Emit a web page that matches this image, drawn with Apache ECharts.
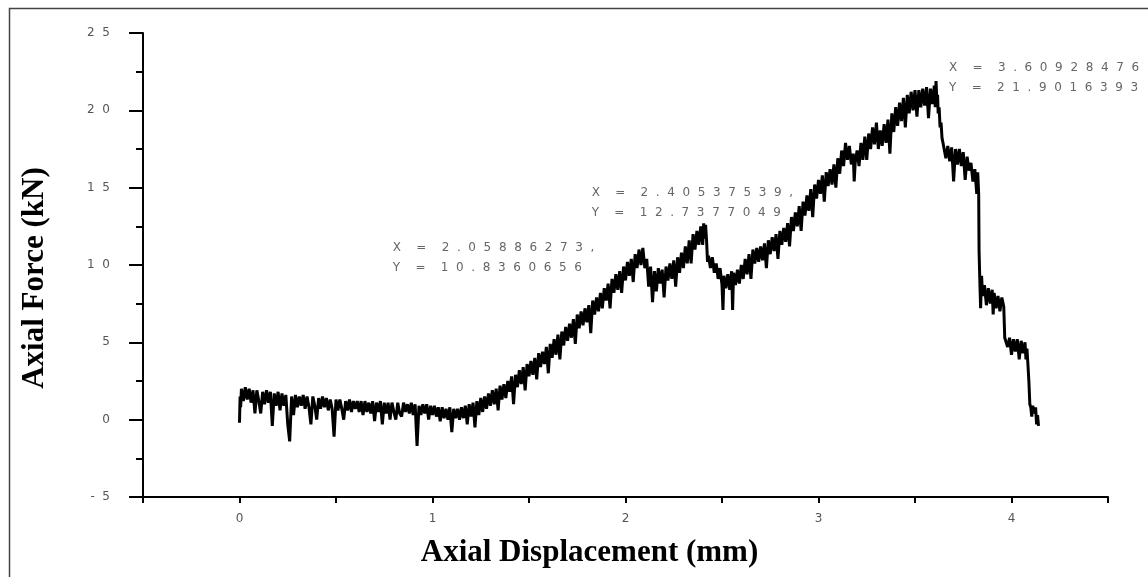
<!DOCTYPE html>
<html>
<head>
<meta charset="utf-8">
<script src="https://cdn.jsdelivr.net/npm/echarts/dist/echarts.min.js"></script>
<style>
html,body{margin:0;padding:0;background:#fff;}
#main{width:1148px;height:577px;}
</style>
</head>
<body>
<div id="main"></div>
<script>
// displacement (mm) / force (kN)
var preload=[[0,-0.2],[0.003,1.5],[0.006,0.8],[0.01,2.0],[0.02,1.2],[0.03,2.1],[0.04,1.3],[0.05,2.0],[0.06,1.1],[0.07,1.9],[0.08,0.4],[0.09,1.9],[0.10,1.2],[0.11,0.4],[0.12,1.8],[0.13,1.0],[0.14,1.9],[0.15,1.1],[0.16,1.8],[0.17,-0.4],[0.18,1.7],[0.19,0.9],[0.20,1.8],[0.21,0.6],[0.22,1.7],[0.23,0.9],[0.24,1.6],[0.25,-0.3],[0.26,-1.4],[0.27,1.5],[0.28,0.3],[0.29,1.6],[0.30,0.8],[0.31,1.5],[0.32,0.9],[0.33,1.6],[0.34,0.7],[0.35,1.5],[0.36,0.8],[0.37,-0.3],[0.38,1.5],[0.39,0.9],[0.40,0.0],[0.41,1.4],[0.42,0.7],[0.43,1.5],[0.44,0.8],[0.45,1.4],[0.46,0.6],[0.47,1.3],[0.48,0.7],[0.49,-1.1],[0.50,1.3],[0.51,0.6],[0.52,1.3],[0.53,0.7],[0.54,0.0],[0.55,1.2],[0.56,0.6],[0.57,1.3],[0.58,0.5],[0.59,1.2],[0.60,0.7],[0.61,1.2],[0.62,0.5],[0.63,1.2],[0.64,0.3],[0.65,1.2],[0.66,0.5],[0.67,1.1],[0.68,0.4],[0.69,1.2],[0.70,-0.1],[0.71,1.1],[0.72,0.5],[0.73,1.2],[0.74,-0.3],[0.75,1.1],[0.76,0.4],[0.77,1.1],[0.78,0.0],[0.79,1.1],[0.80,0.5],[0.81,0.0],[0.82,1.1],[0.83,0.4],[0.84,0.2],[0.85,1.1],[0.86,0.5],[0.87,1.0],[0.88,0.4],[0.89,1.1],[0.90,0.3],[0.91,1.0],[0.92,-1.7],[0.93,0.9],[0.94,0.3],[0.95,1.0],[0.96,0.4],[0.97,1.0],[0.98,0.0],[0.99,0.9]];
var trough=[[1.00,0.3],[1.01,0.9],[1.02,0.2],[1.03,0.8],[1.04,-0.1],[1.05,0.8],[1.06,0.1],[1.07,0.7],[1.08,0.0],[1.09,0.8],[1.10,-0.8],[1.11,0.7],[1.12,0.1],[1.13,0.7],[1.14,0.0],[1.15,0.8],[1.16,0.1],[1.17,0.9],[1.18,-0.3],[1.19,1.0],[1.20,0.2],[1.21,1.1],[1.22,-0.5],[1.23,1.2],[1.24,0.3],[1.25,1.4],[1.26,0.5],[1.27,1.5],[1.28,0.7],[1.29,1.7]];
var rise=[[1.30,0.9],[1.31,1.9],[1.32,1.0],[1.33,2.0],[1.34,0.6],[1.35,2.2],[1.36,1.3],[1.37,2.3],[1.38,1.4],[1.39,2.5],[1.40,1.8],[1.41,2.8],[1.42,1.0],[1.43,2.9],[1.44,2.1],[1.45,3.2],[1.46,2.3],[1.47,3.4],[1.48,1.9],[1.49,3.6],[1.50,2.8],[1.51,3.8],[1.52,2.9],[1.53,4.0],[1.54,2.6],[1.55,4.3],[1.56,3.4],[1.57,4.4],[1.58,3.6],[1.59,4.7],[1.60,3.0],[1.61,4.9],[1.62,4.0],[1.63,5.2],[1.64,4.2],[1.65,5.5],[1.66,3.9],[1.67,5.7],[1.68,4.8],[1.69,6.0],[1.70,5.1],[1.71,6.2],[1.72,5.3],[1.73,6.5],[1.74,4.9],[1.75,6.8],[1.76,5.9],[1.77,7.0],[1.78,6.1],[1.79,7.2],[1.80,6.3],[1.81,7.4],[1.82,5.6],[1.83,7.7],[1.84,6.8],[1.85,7.9],[1.86,7.0],[1.87,8.2],[1.88,7.2],[1.89,8.5],[1.90,7.7],[1.91,8.8],[1.92,7.2],[1.93,9.1],[1.94,8.2],[1.95,9.4],[1.96,8.4],[1.97,9.6],[1.98,8.2],[1.99,9.9],[2.00,9.0],[2.01,10.2],[2.02,9.3],[2.03,10.4],[2.04,8.9],[2.05,10.7],[2.06,9.8],[2.07,11.0],[2.08,10.0],[2.09,11.1]];
var secondPeak=[[2.10,9.8],[2.11,10.4],[2.12,8.6],[2.13,9.9],[2.14,7.6],[2.15,9.6],[2.16,8.3],[2.17,9.8],[2.18,8.8],[2.19,9.7],[2.20,7.9],[2.21,9.9],[2.22,9.0],[2.23,10.1],[2.24,9.1],[2.25,10.3],[2.26,8.6],[2.27,10.5],[2.28,9.5],[2.29,10.8],[2.30,9.8],[2.31,11.2],[2.32,10.1],[2.33,11.6],[2.34,10.1],[2.35,12.0],[2.36,11.0],[2.37,12.2],[2.38,11.3],[2.39,12.5],[2.40,11.3],[2.405,12.7],[2.41,11.7],[2.415,12.6]];
var hardening=[[2.42,11.6],[2.425,10.2],[2.43,10.6],[2.44,9.8],[2.45,10.5],[2.46,9.5],[2.47,10.1],[2.48,9.1],[2.49,9.8],[2.50,8.7],[2.505,7.1],[2.51,9.3],[2.52,8.5],[2.53,9.4],[2.54,8.4],[2.55,9.6],[2.555,7.1],[2.56,9.5],[2.57,8.7],[2.58,9.7],[2.59,8.8],[2.60,10.0],[2.61,9.1],[2.62,10.4],[2.63,9.4],[2.64,10.7],[2.65,9.1],[2.66,11.0],[2.67,10.1],[2.68,11.1],[2.69,10.2],[2.70,11.2],[2.71,10.3],[2.72,11.4],[2.73,9.8],[2.74,11.6],[2.75,10.7],[2.76,11.8],[2.77,10.9],[2.78,12.0],[2.79,10.4],[2.80,12.2],[2.81,11.3],[2.82,12.4],[2.83,11.5],[2.84,12.7],[2.85,11.2],[2.86,13.1],[2.87,12.2],[2.88,13.4],[2.89,12.5],[2.90,13.8],[2.91,12.2],[2.92,14.1],[2.93,13.2],[2.94,14.5],[2.95,13.5],[2.96,14.9],[2.97,13.1],[2.98,15.2],[2.99,14.3],[3.00,15.5],[3.01,14.6],[3.02,15.8],[3.03,14.1],[3.04,16.0],[3.05,15.1],[3.06,16.2],[3.07,15.2],[3.08,16.5],[3.09,15.0],[3.10,16.9],[3.11,15.9],[3.12,17.4],[3.13,16.4],[3.14,17.9],[3.15,16.8],[3.16,17.7],[3.17,16.5],[3.18,17.2],[3.185,15.4],[3.19,16.6],[3.20,17.4],[3.21,16.4],[3.22,17.9],[3.23,16.8],[3.24,18.3],[3.25,16.8],[3.26,18.5],[3.27,17.5],[3.28,18.9],[3.29,17.8],[3.30,19.2],[3.31,17.5],[3.32,18.7],[3.33,17.7],[3.34,19.1],[3.35,17.9],[3.36,19.4],[3.37,17.2],[3.38,19.8],[3.39,18.6],[3.40,20.2],[3.41,19.0],[3.42,20.5],[3.43,19.3],[3.44,20.8],[3.45,18.9],[3.46,21.0],[3.47,19.8],[3.48,21.2],[3.49,20.0],[3.50,21.3],[3.51,19.6],[3.52,21.3],[3.53,20.2],[3.54,21.4],[3.55,20.3],[3.56,21.5],[3.57,19.5],[3.58,21.4],[3.59,20.4],[3.60,21.6]];
var failure=[[3.605,20.2],[3.609,21.9],[3.613,20.6],[3.617,21.0],[3.62,19.8],[3.625,20.2],[3.63,18.9],[3.635,19.2],[3.64,18.2],[3.645,17.9],[3.65,18.0],[3.66,16.9],[3.67,17.7],[3.68,16.7],[3.69,17.6],[3.70,15.4],[3.71,17.5],[3.72,16.5],[3.73,17.5],[3.74,16.4],[3.75,17.3],[3.76,15.5],[3.77,17.0],[3.78,16.1],[3.79,16.6],[3.80,15.4],[3.81,16.2],[3.82,14.6],[3.825,16.0],[3.83,14.6],[3.832,10.9],[3.835,9.4],[3.84,7.2],[3.845,9.3],[3.85,8.0],[3.86,8.7],[3.87,7.4],[3.88,8.5],[3.89,7.5],[3.90,8.4],[3.905,6.8],[3.91,8.2],[3.92,7.2],[3.93,8.0],[3.94,7.0],[3.95,7.9],[3.96,7.3],[3.965,5.3],[3.97,5.4],[3.98,4.7],[3.99,5.3],[4.00,4.2],[4.01,5.2],[4.02,4.4],[4.03,5.2],[4.04,3.9],[4.05,5.1],[4.06,4.3],[4.07,5.0],[4.075,3.9],[4.08,4.6],[4.085,3.6],[4.09,2.5],[4.095,1.0],[4.10,0.8],[4.105,0.2],[4.11,0.9],[4.12,0.4],[4.125,0.8],[4.13,-0.3],[4.135,0.3],[4.14,-0.4]];

// picked points shown on the plot
var pickX=[2.05886273,2.40537539,3.60928476];
var pickY=[10.8360656,12.7377049,21.9016393];
var pickTail=[',',',',''];

var trace=preload.concat(trough,rise,secondPeak,hardening,failure);

// the original prints every glyph spread out
function spaced(s){
    return String(s).split(' ').map(function(w){return w.split('').join('  ');}).join('    ');
}

var labelOffsets=[[-244,-14],[-112,-40],[13,-23]];
var picks=[];
for(var i=0;i<pickX.length;i++){
    picks.push({
        coord:[pickX[i],pickY[i]],
        label:{
            position:labelOffsets[i],
            formatter:spaced('X = '+pickX[i]+pickTail[i])+'\n'+spaced('Y = '+pickY[i])
        }
    });
}

var titleFont={fontFamily:'Liberation Serif',fontWeight:'bold',fontSize:31,color:'#000'};
var tickFont={fontFamily:'DejaVu Sans',fontSize:12,color:'#555'};

var Myecharts=echarts.init(document.getElementById('main'),null,{renderer:'canvas'});
var option={
    backgroundColor:'#fff',
    animation:false,
    graphic:[{
        type:'rect',
        left:7,top:6,
        shape:{width:1300,height:700},
        style:{fill:'none',stroke:'#444',lineWidth:1.5},
        silent:true
    }],
    grid:{left:143,right:40,top:33,bottom:80},
    xAxis:{
        type:'value',
        min:-0.5,max:4.5,interval:0.5,
        name:'Axial Displacement (mm)',
        nameLocation:'middle',
        nameGap:40,
        nameTextStyle:Object.assign({padding:[0,72,0,0]},titleFont),
        axisLine:{show:true,onZero:false,lineStyle:{color:'#000',width:2}},
        axisTick:{show:true,length:6,lineStyle:{color:'#000',width:2}},
        axisLabel:Object.assign({
            margin:16,
            formatter:function(v){return Math.abs(v-Math.round(v))<1e-9?spaced(Math.round(v)):'';}
        },tickFont),
        splitLine:{show:false}
    },
    yAxis:{
        type:'value',
        min:-5,max:25,interval:5,
        name:'Axial Force (kN)',
        nameLocation:'middle',
        nameGap:93,
        nameTextStyle:Object.assign({padding:[0,26,0,0]},titleFont),
        axisLine:{show:true,onZero:false,lineStyle:{color:'#000',width:2}},
        axisTick:{show:true,length:14,lineStyle:{color:'#000',width:2}},
        minorTick:{show:true,splitNumber:2,length:7,lineStyle:{color:'#000',width:2}},
        axisLabel:Object.assign({margin:33,formatter:function(v){return spaced(v);}},tickFont),
        splitLine:{show:false}
    },
    series:[{
        type:'line',
        data:trace,
        symbol:'none',
        sampling:null,
        lineStyle:{color:'#000',width:3},
        markPoint:{
            symbol:'circle',
            symbolSize:0,
            silent:true,
            itemStyle:{color:'rgba(0,0,0,0)'},
            label:{
                show:true,
                fontFamily:'DejaVu Sans',
                fontSize:12,
                lineHeight:20,
                color:'#666',
                align:'left',
                verticalAlign:'top'
            },
            data:picks
        }
    }]
};
Myecharts.setOption(option);
</script>
</body>
</html>
